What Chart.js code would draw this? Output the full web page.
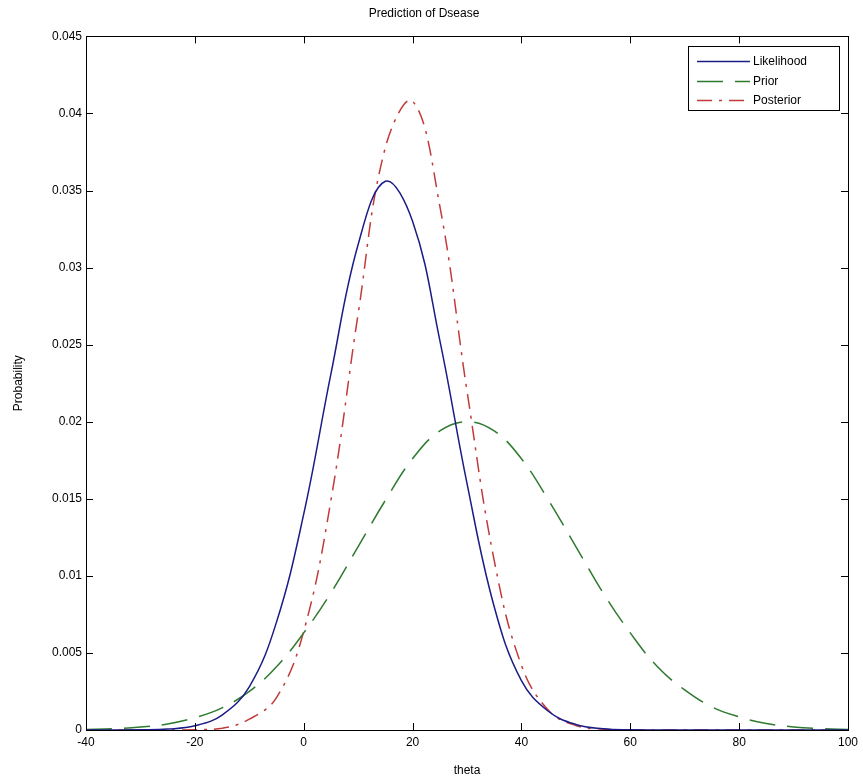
<!DOCTYPE html>
<html>
<head>
<meta charset="utf-8">
<script src="https://cdn.jsdelivr.net/npm/chart.js@4/dist/chart.umd.min.js"></script>
<style>
  html, body { margin: 0; padding: 0; background: #fff; }
  #wrap { width: 863px; height: 783px; }
</style>
</head>
<body>
<div id="wrap"><canvas id="diseaseChart" width="863" height="783"></canvas></div>
<script>
// values, every 5 units of theta
const theta = [-40, -35, -30, -25, -20, -15, -10, -5, 0, 5, 10, 15, 20, 25, 30, 35, 40, 45, 50, 55, 60, 65, 70, 75, 80, 85, 90, 95, 100];
const likelihood = [0, 0.000002, 0.000012, 0.00006, 0.00027, 0.00097, 0.0028, 0.0070, 0.0140, 0.0231, 0.0315, 0.0356, 0.0330, 0.0253, 0.0160, 0.0080, 0.0032, 0.0012, 0.00036, 0.00008, 0.00001, 0, 0, 0, 0, 0, 0, 0, 0];
const prior = [0.000035, 0.000083, 0.00019, 0.00039, 0.0008, 0.00144, 0.0025, 0.0041, 0.0063, 0.0089, 0.0119, 0.0149, 0.0176, 0.0194, 0.0200, 0.0194, 0.0176, 0.0149, 0.0119, 0.0089, 0.0063, 0.0041, 0.0026, 0.0015, 0.00085, 0.00042, 0.0002, 0.00009, 0.00004];
const posterior = [0, 0, 0, 0.000002, 0.000016, 0.00011, 0.0007, 0.0021, 0.0064, 0.0149, 0.0270, 0.0378, 0.0408, 0.0340, 0.0220, 0.0110, 0.0042, 0.00126, 0.00029, 0.00005, 0.000007, 0, 0, 0, 0, 0, 0, 0, 0];

const seriesNames = ['Likelihood', 'Prior', 'Posterior'];
const xTicks = [-40, -20, 0, 20, 40, 60, 80, 100];

const FONT = 'Liberation Sans, Arial, sans-serif';

function toPoints(ys) {
    return theta.map((t, i) => ({ x: t, y: ys[i] }));
}

// matlab style box with inward ticks on all four sides
const axesBox = {
    id: 'axesBox',
    afterDatasetsDraw(chart) {
        const { ctx, chartArea: a, scales } = chart;
        ctx.save();
        ctx.strokeStyle = '#000';
        ctx.lineWidth = 1;
        ctx.beginPath();
        scales.x.ticks.forEach(t => {
            const px = Math.round(scales.x.getPixelForValue(t.value)) + 0.5;
            ctx.moveTo(px, a.bottom); ctx.lineTo(px, a.bottom - 7);
            ctx.moveTo(px, a.top); ctx.lineTo(px, a.top + 7);
        });
        scales.y.ticks.forEach(t => {
            const py = Math.round(scales.y.getPixelForValue(t.value)) + 0.5;
            ctx.moveTo(a.left, py); ctx.lineTo(a.left + 7, py);
            ctx.moveTo(a.right, py); ctx.lineTo(a.right - 7, py);
        });
        ctx.stroke();
        ctx.strokeRect(Math.round(a.left) + 0.5, Math.round(a.top) + 0.5,
            Math.round(a.right - a.left), Math.round(a.bottom - a.top));
        ctx.restore();
    }
};

// legend box in the upper right corner of the axes
const boxLegend = {
    id: 'boxLegend',
    afterDraw(chart) {
        const { ctx, chartArea: a } = chart;
        const w = 151, h = 64;
        const x0 = a.right - 9 - w, y0 = a.top + 10;
        ctx.save();
        ctx.fillStyle = '#fff';
        ctx.fillRect(x0, y0, w, h);
        ctx.strokeStyle = '#000';
        ctx.lineWidth = 1;
        ctx.strokeRect(Math.round(x0) + 0.5, Math.round(y0) + 0.5, w, h);
        ctx.font = '12px ' + FONT;
        ctx.textBaseline = 'middle';
        chart.data.datasets.forEach((ds, i) => {
            const y = Math.round(y0 + 15 + i * 19.5) + 0.5;
            ctx.strokeStyle = ds.borderColor;
            ctx.lineWidth = ds.borderWidth;
            ctx.setLineDash(ds.borderDash || []);
            ctx.beginPath();
            ctx.moveTo(x0 + 9, y);
            ctx.lineTo(x0 + 62, y);
            ctx.stroke();
            ctx.setLineDash([]);
            ctx.fillStyle = '#000';
            ctx.fillText(ds.label, x0 + 65, y);
        });
        ctx.restore();
    }
};

const ctx = document.getElementById('diseaseChart').getContext('2d');
new Chart(ctx, {
    type: 'line',
    data: {
        datasets: [
            {
                label: seriesNames[0],
                data: toPoints(likelihood),
                borderColor: '#1c1c86',
                borderWidth: 1.5
            },
            {
                label: seriesNames[1],
                data: toPoints(prior),
                borderColor: '#2f7a2f',
                borderWidth: 1.5,
                borderDash: [26, 12]
            },
            {
                label: seriesNames[2],
                data: toPoints(posterior),
                borderColor: '#c23a3a',
                borderWidth: 1.5,
                borderDash: [15, 7, 3, 7]
            }
        ]
    },
    options: {
        responsive: false,
        animation: false,
        events: [],
        elements: {
            point: { radius: 0 },
            line: { tension: 0.4, fill: false }
        },
        layout: { padding: { left: 0, right: 15, top: 0, bottom: 0 } },
        plugins: {
            legend: { display: false },
            tooltip: { enabled: false },
            title: {
                display: true,
                text: 'Prediction of Dsease',
                color: '#000',
                font: { family: FONT, size: 12, weight: 'normal' },
                padding: { top: 6, bottom: 16 }
            }
        },
        scales: {
            x: {
                type: 'linear',
                min: -40,
                max: 100,
                afterBuildTicks: s => { s.ticks = xTicks.map(v => ({ value: v })); },
                afterFit: s => { s.height = 53; },
                grid: { display: false, drawTicks: false },
                border: { display: false },
                ticks: {
                    color: '#000',
                    padding: 5,
                    maxRotation: 0,
                    font: { family: FONT, size: 12 }
                },
                title: {
                    display: true,
                    text: 'theta',
                    color: '#000',
                    font: { family: FONT, size: 12 },
                    padding: { top: 0, bottom: 5 }
                }
            },
            y: {
                min: 0,
                max: 0.045,
                afterFit: s => { s.width = 86; },
                grid: { display: false, drawTicks: false },
                border: { display: false },
                ticks: {
                    stepSize: 0.005,
                    color: '#000',
                    padding: 4,
                    font: { family: FONT, size: 12 },
                    callback: v => String(parseFloat(v.toFixed(3)))
                },
                title: {
                    display: true,
                    text: 'Probability',
                    color: '#000',
                    font: { family: FONT, size: 12 },
                    padding: { top: 11, bottom: 0 }
                }
            }
        }
    },
    plugins: [axesBox, boxLegend]
});
</script>
</body>
</html>
